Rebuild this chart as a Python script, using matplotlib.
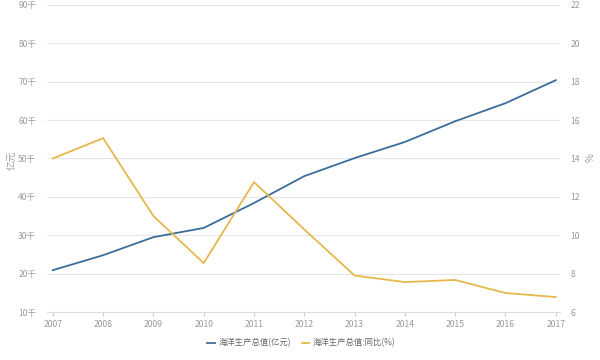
"""海洋生产总值 折线图
"""

import matplotlib
matplotlib.use('Agg')
from matplotlib import pyplot
from matplotlib.ticker import FuncFormatter

pyplot.rcParams['font.family'] = ['Noto Sans CJK SC', 'DejaVu Sans']

years = [2007, 2008, 2009, 2010, 2011, 2012, 2013, 2014, 2015, 2016, 2017]
output_value = [20900, 24800, 29500, 31900, 38400, 45400, 50100, 54300, 59700, 64400, 70400]
growth_rate = [14.0, 15.06, 11.0, 8.55, 12.77, 10.3, 7.9, 7.56, 7.67, 6.99, 6.78]
left_ticks = [10000, 20000, 30000, 40000, 50000, 60000, 70000, 80000, 90000]
right_ticks = [6, 8, 10, 12, 14, 16, 18, 20, 22]

BLUE = '#3a6d9a'
YELLOW = '#e6b84c'
GREY = '#9a9a9a'

fig = pyplot.figure(figsize=(6, 3.6), dpi=100)
ax = fig.add_axes([0.078, 0.1333, 0.855, 0.853])
ax2 = ax.twinx()

ax.plot(years, output_value, color=BLUE, linewidth=1.3, label='海洋生产总值(亿元)', zorder=3)
ax2.plot(years, growth_rate, color=YELLOW, linewidth=1.3, label='海洋生产总值:同比(%)', zorder=3)

ax.set_xlim(2006.88, 2017.08)
ax.set_ylim(10000, 90000)
ax2.set_ylim(6, 22)
ax.set_yticks(left_ticks)
ax2.set_yticks(right_ticks)
ax.set_xticks(years)
ax.yaxis.set_major_formatter(FuncFormatter(lambda v, p: f'{int(v / 1000)}千'))

ax.grid(axis='y', color='#e6e6e6', linewidth=0.8)
for a in (ax, ax2):
    for side in ('top', 'left', 'right'):
        a.spines[side].set_visible(False)
    a.spines['bottom'].set_color('#dddddd')
    a.tick_params(axis='y', length=0, labelsize=6.2, labelcolor=GREY, pad=7.5)
ax2.spines['bottom'].set_visible(False)
ax.tick_params(axis='x', length=3, color='#cccccc', labelsize=6.2, labelcolor=GREY, pad=3)

# подписи осей ставим руками
fig.text(13 / 600, 1 - 160 / 360, '亿元', color=GREY, fontsize=7, rotation=90,
         ha='center', va='center')
fig.text(591 / 600, 1 - 158 / 360, '%', color=GREY, fontsize=7, rotation=90,
         ha='center', va='center')

lines = ax.get_lines() + ax2.get_lines()
fig.legend(lines, [l.get_label() for l in lines], loc='center', bbox_to_anchor=(0.502, 0.047),
           ncol=2, frameon=False, fontsize=6, labelcolor='#666666',
           handlelength=0.9, columnspacing=1.3, handletextpad=0.4)

fig.savefig('out.png', dpi=100)
